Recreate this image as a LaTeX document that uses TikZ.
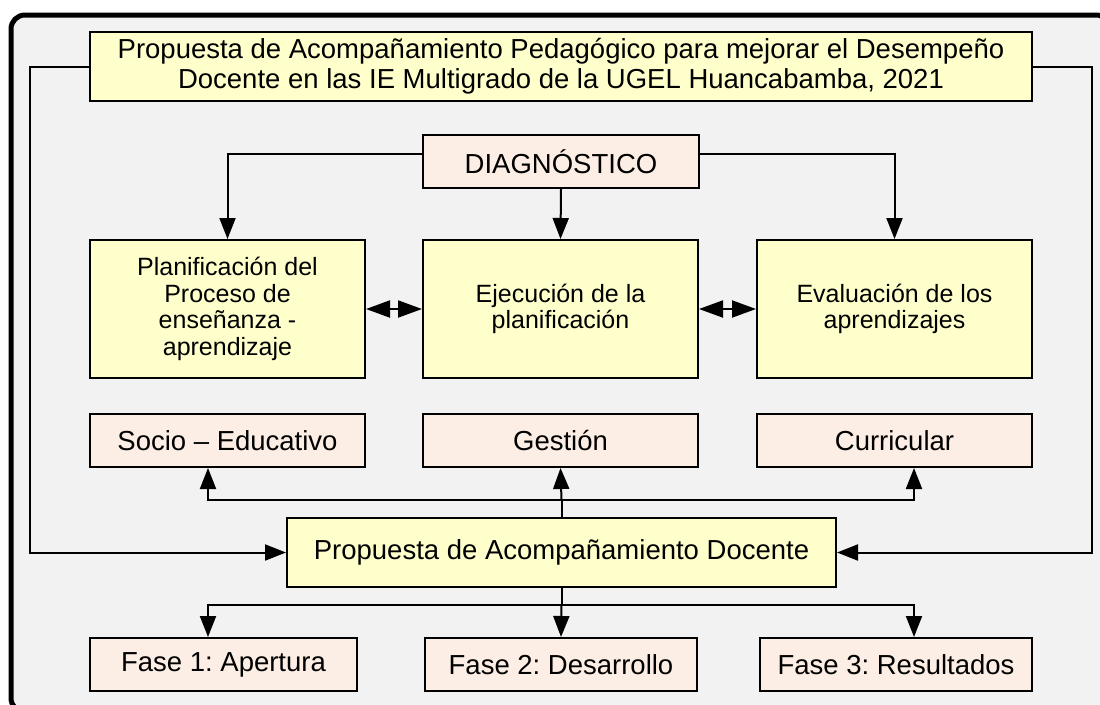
\documentclass[tikz,border=0pt]{standalone}
\usepackage{fontspec}
\setmainfont{Liberation Sans}
\usetikzlibrary{arrows.meta}
\definecolor{boxyellow}{HTML}{FFFFCC}
\definecolor{boxpeach}{HTML}{FCEEE4}
\definecolor{panelgray}{HTML}{F2F2F2}
\frenchspacing
\begin{document}
\begin{tikzpicture}[x=1pt,y=-1pt,
  every node/.style={font=\fontsize{27.5}{30}\selectfont,align=center,inner sep=0pt},
  ybox/.style={draw,line width=2pt,fill=boxyellow,minimum height=53pt},
  pbox/.style={draw,line width=2pt,fill=boxpeach,minimum height=53pt},
  stagebox/.style={ybox,minimum width=275pt,minimum height=138pt,font=\fontsize{25}{26.5}\selectfont},
  link/.style={line width=2pt},
  arr/.style={link,-{Triangle[length=21pt,width=16pt]}},
  dbl/.style={link,{Triangle[length=24pt,width=17pt]}-{Triangle[length=24pt,width=17pt]}}]
  \useasboundingbox (0,0) rectangle (1100,704);
  \clip (0,0) rectangle (1100,704);
  \draw[line width=5pt,fill=panelgray,rounded corners=14pt] (11,15) rectangle (1110,712);
  \node[ybox,minimum width=942pt,minimum height=69pt] (title) at (561,66.5)
    {Propuesta de Acompañamiento Pedagógico para mejorar el Desempeño\\Docente en las IE Multigrado de la UGEL Huancabamba, 2021};
  \node[pbox,minimum width=276pt] (diag) at (561,161.5) {DIAGNÓSTICO};
  \node[stagebox] (plan) at (227.5,309) {Planificación del\\Proceso de\\enseñanza -\\aprendizaje};
  \node[stagebox] (ejec) at (560.5,309) {Ejecución de la\\planificación};
  \node[stagebox] (eval) at (894.5,309) {Evaluación de los\\aprendizajes};
  \node[pbox,minimum width=275pt] (socio) at (227.5,440.5) {Socio – Educativo};
  \node[pbox,minimum width=275pt] (gestion) at (560.5,440.5) {Gestión};
  \node[pbox,minimum width=275pt] (curric) at (894.5,440.5) {Curricular};
  \node[ybox,minimum width=549pt,minimum height=69pt] (prop) at (561.5,552.5) {Propuesta de Acompañamiento Docente};
  \node[pbox,minimum width=267pt] (fase1) at (223.5,664.5) {Fase 1: Apertura};
  \node[pbox,minimum width=272pt] (fase2) at (561,664.5) {Fase 2: Desarrollo};
  \node[pbox,minimum width=272pt] (fase3) at (896,664.5) {Fase 3: Resultados};

  \draw[arr] ([yshift=8pt]diag.west) -| (plan.north);
  \draw[arr] ([yshift=8pt]diag.east) -| (eval.north);
  \draw[arr] (diag.south) -- (ejec.north);
  \draw[dbl] (plan.east) -- (ejec.west);
  \draw[dbl] (ejec.east) -- (eval.west);

  \draw[arr] (title.west) -- ++(-59,0) |- (prop.west);
  \draw[arr] (title.east) -- ++(59,0) |- (prop.east);

  \draw[link] (prop.north) -- ++(0,-17) coordinate (up);
  \draw[arr] (up) -- (gestion.south);
  \draw[arr] (up) -| ([xshift=-19.5pt]socio.south);
  \draw[arr] (up) -| ([xshift=19.5pt]curric.south);

  \draw[link] (prop.south) -- ++(0,17) coordinate (down);
  \draw[arr] (down) -- (fase2.north);
  \draw[arr] (down) -| ([xshift=-15.5pt]fase1.north);
  \draw[arr] (down) -| ([xshift=18pt]fase3.north);
\end{tikzpicture}
\end{document}
